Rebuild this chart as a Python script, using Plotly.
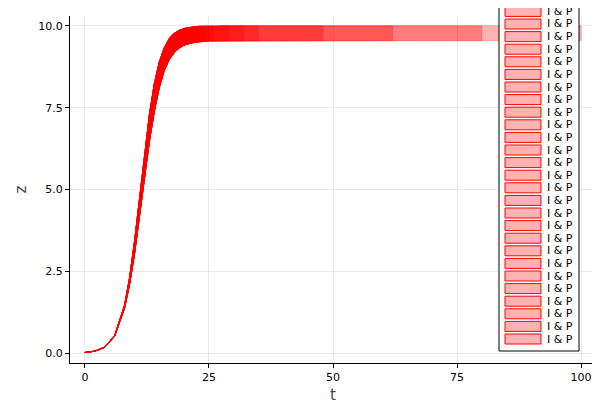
import plotly.graph_objects as go

t = [0, 2, 4, 6, 8, 9, 10, 11, 12, 13, 14, 15, 16, 17, 18, 19, 20, 21, 22, 23, 24, 25,
     26, 29, 32, 35, 40, 48, 62, 80, 100]
z_upper = [0.021, 0.063, 0.187, 0.54, 1.47, 2.30, 3.41, 4.73, 6.08, 7.29, 8.24, 8.90, 9.33,
           9.61, 9.77, 9.86, 9.92, 9.955, 9.97, 9.985, 9.99, 9.995,
           10, 10, 10, 10, 10, 10, 10, 10, 10]
z_lower = [0.021, 0.06, 0.18, 0.52, 1.38, 2.10, 3.03, 4.15, 5.35, 6.47, 7.40, 8.12, 8.63,
           8.97, 9.18, 9.32, 9.41, 9.46, 9.49, 9.51, 9.53, 9.54,
           9.55, 9.55, 9.55, 9.55, 9.55, 9.55, 9.55, 9.55, 9.55]
run_ends = [12, 13, 14, 15, 16, 17, 18, 19, 20, 20, 21, 21, 22, 22, 23, 23, 24, 24, 25, 25,
            26, 29, 32, 35, 48, 62, 80, 100]
label = "I & P"

fig = go.Figure()
for end in run_ends:
    n = t.index(end) + 1
    xs = t[:n] + t[:n][::-1]
    ys = z_upper[:n] + z_lower[:n][::-1]
    fig.add_trace(go.Scatter(
        x=xs, y=ys, mode="lines", fill="toself",
        fillcolor="rgba(255,0,0,0.3)",
        line=dict(color="rgba(255,0,0,0.35)", width=0.6),
        name=label, hoverinfo="skip", showlegend=False))

# manual legend (the reference legend overflows the top of the canvas)
L, R, T, B = 62, 588, 8, 355
px = lambda x: (x - L) / (R - L)
py = lambda y: (B - y) / (B - T)
shapes = [dict(type="rect", xref="paper", yref="paper", x0=px(491), x1=px(571),
               y0=py(343), y1=py(-20), line=dict(color="black", width=1),
               fillcolor="white", layer="above")]
annotations = []
for i in range(len(run_ends)):
    yc = 331 - 12.6 * i
    shapes.append(dict(type="rect", xref="paper", yref="paper",
                       x0=px(497), x1=px(533), y0=py(yc + 5), y1=py(yc - 5),
                       line=dict(color="red", width=1),
                       fillcolor="rgba(255,0,0,0.3)", layer="above"))
    annotations.append(dict(text=label, xref="paper", yref="paper", x=px(537), y=py(yc),
                            xanchor="left", yanchor="middle", showarrow=False,
                            font=dict(family="DejaVu Sans", size=11, color="black")))

axis = dict(showgrid=True, gridcolor="rgba(0,0,0,0.08)", zeroline=False,
            showline=True, linecolor="black", linewidth=1, ticks="outside",
            ticklen=4, tickcolor="black", mirror=False,
            tickfont=dict(family="DejaVu Sans", size=11, color="black"))
fig.update_layout(
    width=600, height=400, template="none",
    plot_bgcolor="white", paper_bgcolor="white",
    margin=dict(l=L, r=600 - R, t=T, b=400 - B),
    xaxis=dict(axis, range=[-3, 103], tickvals=[0, 25, 50, 75, 100],
               title=dict(text="t", font=dict(family="DejaVu Sans", size=15), standoff=6)),
    yaxis=dict(axis, range=[-0.3, 10.3], tickvals=[0, 2.5, 5, 7.5, 10],
               ticktext=["0.0", "2.5", "5.0", "7.5", "10.0"],
               title=dict(text="z", font=dict(family="DejaVu Sans", size=15), standoff=8)),
    shapes=shapes, annotations=annotations, showlegend=False,
)
fig.write_html("out.html")
